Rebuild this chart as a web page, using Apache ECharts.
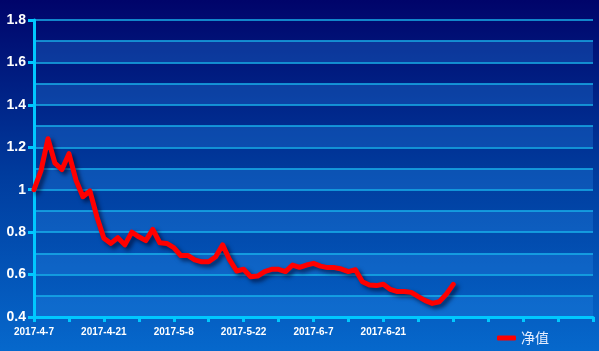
<!DOCTYPE html>
<html>
<head>
<meta charset="utf-8">
<script src="https://cdn.jsdelivr.net/npm/echarts@6/dist/echarts.min.js"></script>
<style>
html,body{margin:0;padding:0;}
#c{width:599px;height:351px;background:linear-gradient(to bottom,#00046a 0%,#003c9e 50%,#0668cc 100%);}
</style>
</head>
<body>
<div id="c"></div>
<script>
const categories = [
 '2017-4-7','2017-4-10','2017-4-11','2017-4-12','2017-4-13','2017-4-14',
 '2017-4-17','2017-4-18','2017-4-19','2017-4-20','2017-4-21',
 '2017-4-24','2017-4-25','2017-4-26','2017-4-27','2017-4-28',
 '2017-5-2','2017-5-3','2017-5-4','2017-5-5',
 '2017-5-8','2017-5-9','2017-5-10','2017-5-11','2017-5-12',
 '2017-5-15','2017-5-16','2017-5-17','2017-5-18','2017-5-19',
 '2017-5-22','2017-5-23','2017-5-24','2017-5-25','2017-5-26',
 '2017-5-31','2017-6-1','2017-6-2',
 '2017-6-5','2017-6-6','2017-6-7','2017-6-8','2017-6-9',
 '2017-6-12','2017-6-13','2017-6-14','2017-6-15','2017-6-16',
 '2017-6-19','2017-6-20','2017-6-21','2017-6-22','2017-6-23',
 '2017-6-26','2017-6-27','2017-6-28','2017-6-29','2017-6-30',
 '2017-7-3','2017-7-4','2017-7-5','2017-7-6','2017-7-7',
 '2017-7-10','2017-7-11','2017-7-12','2017-7-13','2017-7-14',
 '2017-7-17','2017-7-18','2017-7-19','2017-7-20','2017-7-21',
 '2017-7-24','2017-7-25','2017-7-26','2017-7-27','2017-7-28',
 '2017-7-31','2017-8-1','2017-8-2'
];
const tickLabels = ['2017-4-7','2017-4-21','2017-5-8','2017-5-22','2017-6-7','2017-6-21'];
const seriesName = '净值';
const netValues = [
 1.00, 1.09, 1.24, 1.125, 1.095, 1.17, 1.046, 0.967, 0.994, 0.873,
 0.771, 0.747, 0.774, 0.74, 0.80, 0.778, 0.76, 0.813, 0.75, 0.747,
 0.727, 0.69, 0.69, 0.669, 0.66, 0.66, 0.684, 0.74, 0.669, 0.617,
 0.625, 0.59, 0.593, 0.614, 0.625, 0.625, 0.614, 0.645, 0.634, 0.645,
 0.653, 0.64, 0.633, 0.633, 0.626, 0.614, 0.623, 0.566, 0.551, 0.548,
 0.554, 0.53, 0.52, 0.52, 0.516, 0.496, 0.477, 0.464, 0.472, 0.507,
 0.554
];
const yMin = 0.4, yMax = 1.8;

const chart = echarts.init(document.getElementById('c'));
chart.setOption({
  animation: false,
  grid: {left: 34, right: 6, top: 20, bottom: 34, containLabel: false},
  legend: {
    data: [seriesName],
    left: 492, top: 326,
    icon: 'roundRect',
    itemWidth: 19, itemHeight: 5, itemGap: 10,
    textStyle: {color: '#e6eeff', fontSize: 14, fontFamily: 'Noto Sans CJK SC'}
  },
  xAxis: {
    type: 'category',
    data: categories,
    boundaryGap: false,
    axisLine: {lineStyle: {color: '#00c8ff', width: 3}},
    axisTick: {interval: 4, length: 5, lineStyle: {color: '#00c8ff', width: 3}},
    axisLabel: {
      interval: function (i, v) { return tickLabels.indexOf(v) >= 0; },
      color: '#ffffff', fontSize: 10, fontWeight: 'bold',
      fontFamily: 'Liberation Sans', margin: 10
    },
    splitLine: {show: false}
  },
  yAxis: [{
    type: 'value', min: yMin, max: yMax, interval: 0.2,
    axisLine: {show: true, lineStyle: {color: '#00c8ff', width: 3}},
    axisTick: {show: true, length: 6, lineStyle: {color: '#00c8ff', width: 3}},
    axisLabel: {color: '#ffffff', fontSize: 14, fontWeight: 'bold', fontFamily: 'Liberation Sans', margin: 8},
    splitLine: {show: false}
  }, {
    type: 'value', min: yMin, max: yMax, interval: 0.1,
    position: 'left',
    axisLine: {show: false}, axisTick: {show: false}, axisLabel: {show: false},
    splitLine: {show: true, lineStyle: {color: '#18b0ea', width: 1.5}},
    splitArea: {show: true, areaStyle: {color: ['rgba(40,140,235,0.30)', 'rgba(0,0,0,0)']}}
  }],
  series: [{
    name: seriesName,
    type: 'line',
    yAxisIndex: 0,
    data: netValues,
    showSymbol: false,
    smooth: false,
    lineStyle: {color: '#ff0000', width: 5, cap: 'round', join: 'round',
      shadowColor: 'rgba(0,0,30,0.6)', shadowBlur: 4, shadowOffsetX: 3, shadowOffsetY: 3},
    itemStyle: {color: '#ff0000', shadowColor: 'rgba(0,0,30,0.6)', shadowBlur: 3, shadowOffsetX: 2, shadowOffsetY: 2}
  }]
});
</script>
</body>
</html>
